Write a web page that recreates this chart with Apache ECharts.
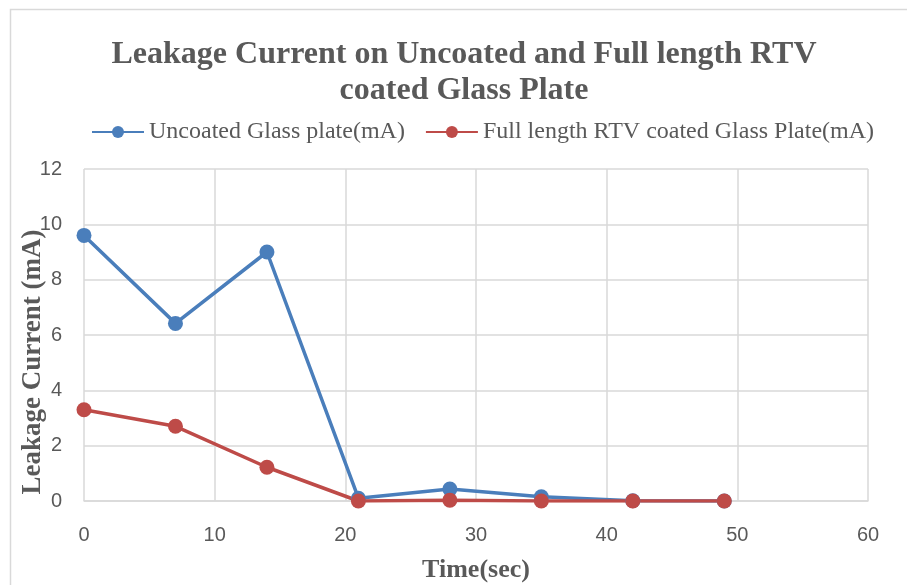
<!DOCTYPE html>
<html><head><meta charset="utf-8">
<script src="https://cdn.jsdelivr.net/npm/echarts@6/dist/echarts.min.js"></script>
<style>html,body{margin:0;padding:0;background:#fff}#c{width:907px;height:585px}</style>
</head><body><div id="c"></div>
<script>
const timeSec = [0, 7, 14, 21, 28, 35, 42, 49];
const uncoated = [9.6, 6.42, 9.0, 0.1, 0.43, 0.15, 0.01, 0.0];
const rtvCoated = [3.3, 2.7, 1.22, 0.0, 0.03, 0.0, 0.0, 0.0];
const seriesNames = ['Uncoated Glass plate(mA)', 'Full length RTV coated Glass Plate(mA)'];
const titleLines = ['Leakage Current on Uncoated and Full length RTV', 'coated Glass Plate'];
const yAxisTitle = 'Leakage Current (mA)';
const xAxisTitle = 'Time(sec)';

const chart = echarts.init(document.getElementById('c'));
const serif = '"Liberation Serif", "Times New Roman", serif';
const sans = '"Liberation Sans", Arial, sans-serif';
const pair = (xs, ys) => xs.map((x, i) => [x, ys[i]]);
chart.setOption({
  animation: false,
  graphic: [
    {type: 'rect', shape: {x: 10.5, y: 9.5, width: 1000, height: 1000}, style: {fill: 'none', stroke: '#d9d9d9', lineWidth: 1.5}, z: -1},
    {type: 'text', x: 33, y: 362, rotation: Math.PI / 2,
     style: {text: yAxisTitle, font: 'bold 27px "Liberation Serif", serif', fill: '#595959', textAlign: 'center', textVerticalAlign: 'middle'}},
    {type: 'text', x: 464, y: 37,
     style: {text: titleLines.join('\n'), font: 'bold 32px "Liberation Serif", serif', lineHeight: 36, fill: '#595959', textAlign: 'center', textVerticalAlign: 'top'}}
  ],
  legend: {
    top: 115, left: 86, itemGap: 20, itemWidth: 52, itemHeight: 15,
    textStyle: {fontFamily: serif, fontSize: 24, color: '#595959'},
    data: seriesNames
  },
  grid: {left: 84, right: 39, top: 169, bottom: 84, outerBoundsMode: 'none', containLabel: false},
  xAxis: {
    type: 'value', min: 0, max: 60, interval: 10,
    name: xAxisTitle, nameLocation: 'middle', nameGap: 56,
    nameTextStyle: {fontFamily: serif, fontSize: 26, fontWeight: 'bold', color: '#595959'},
    axisLine: {show: true, lineStyle: {color: '#d9d9d9', width: 1.5}},
    axisTick: {show: false},
    axisLabel: {fontFamily: sans, fontSize: 20, color: '#595959', margin: 24},
    splitLine: {show: true, lineStyle: {color: '#d9d9d9', width: 1.5}}
  },
  yAxis: {
    type: 'value', min: 0, max: 12, interval: 2,
    axisLine: {show: false}, axisTick: {show: false},
    axisLabel: {fontFamily: sans, fontSize: 20, color: '#595959', margin: 22},
    splitLine: {show: true, lineStyle: {color: '#d9d9d9', width: 1.5}}
  },
  series: [
    {name: seriesNames[0], type: 'line', data: pair(timeSec, uncoated), symbol: 'circle', symbolSize: 15,
     lineStyle: {color: '#4a7ebb', width: 3.5}, itemStyle: {color: '#4a7ebb'}},
    {name: seriesNames[1], type: 'line', data: pair(timeSec, rtvCoated), symbol: 'circle', symbolSize: 15,
     lineStyle: {color: '#be4b48', width: 3.5}, itemStyle: {color: '#be4b48'}}
  ]
});
</script></body></html>
